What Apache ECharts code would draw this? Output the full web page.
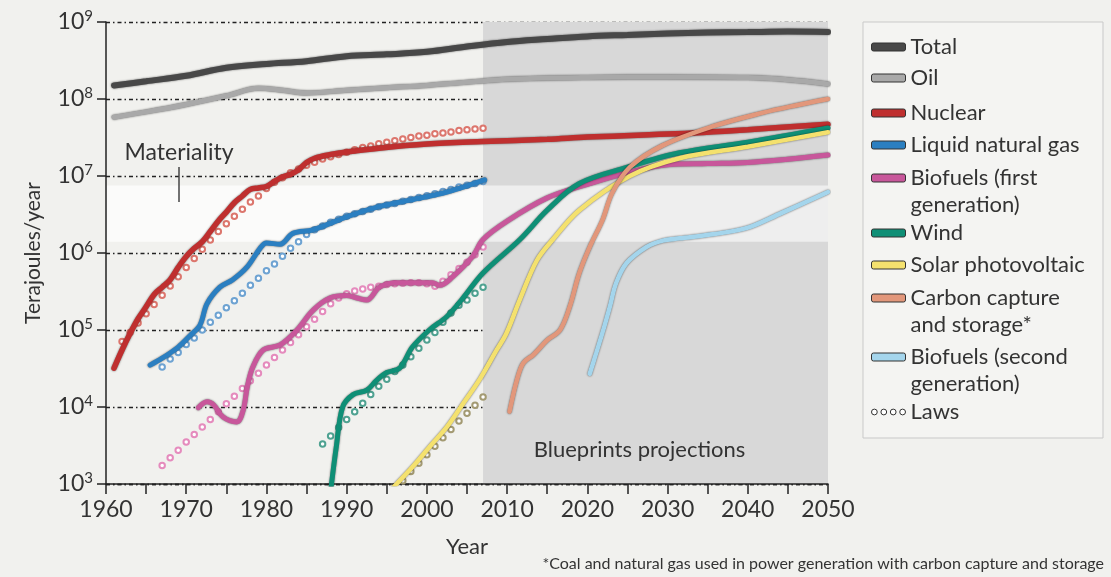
<!DOCTYPE html>
<html>
<head>
<meta charset="utf-8">
<script src="https://cdn.jsdelivr.net/npm/echarts@6/dist/echarts.min.js"></script>
<style>
  html, body { margin: 0; padding: 0; background: #f1f1ee; }
  #chart { width: 1111px; height: 577px; }
</style>
</head>
<body>
<div id="chart"></div>
<script>
// ---- data: [year, terajoules/year] ----
const total = [[1961, 1.5e8], [1965, 1.7e8], [1970, 2.0e8], [1975, 2.55e8], [1980, 2.85e8], [1985, 3.1e8], [1990, 3.6e8], [1995, 3.8e8], [2000, 4.1e8], [2005, 4.8e8], [2010, 5.5e8], [2015, 6.0e8], [2020, 6.5e8], [2025, 6.8e8], [2030, 7.1e8], [2035, 7.3e8], [2040, 7.4e8], [2045, 7.5e8], [2050, 7.4e8]];
const oil = [[1961, 5.8e7], [1965, 6.8e7], [1970, 8.5e7], [1975, 1.1e8], [1979, 1.38e8], [1982, 1.3e8], [1985, 1.2e8], [1990, 1.3e8], [1995, 1.4e8], [2000, 1.5e8], [2005, 1.65e8], [2010, 1.8e8], [2020, 1.9e8], [2030, 1.93e8], [2040, 1.9e8], [2045, 1.78e8], [2050, 1.57e8]];
const nuclear = [[1961, 3.2e4], [1962, 5.5e4], [1963, 9e4], [1964, 1.4e5], [1965, 2e5], [1966, 2.9e5], [1967, 3.6e5], [1968, 4.5e5], [1969, 6.5e5], [1970, 9e5], [1971, 1.15e6], [1972, 1.4e6], [1973, 1.9e6], [1974, 2.6e6], [1975, 3.4e6], [1976, 4.5e6], [1977, 5.5e6], [1978, 6.7e6], [1979, 7e6], [1980, 7.3e6], [1981, 8.5e6], [1982, 9.7e6], [1983, 1.05e7], [1984, 1.2e7], [1985, 1.5e7], [1986, 1.7e7], [1988, 1.9e7], [1990, 2.05e7], [1994, 2.3e7], [2000, 2.6e7], [2007, 2.8e7], [2015, 3.0e7], [2020, 3.2e7], [2030, 3.5e7], [2040, 4.0e7], [2050, 4.7e7]];
const lng = [[1965.5, 3.5e4], [1967, 4.3e4], [1969, 6e4], [1970.5, 8.5e4], [1971.7, 1.15e5], [1972.6, 2.2e5], [1974.2, 3.6e5], [1975.8, 4.5e5], [1977.6, 6.6e5], [1979.2, 1.15e6], [1980, 1.35e6], [1981.7, 1.3e6], [1983.3, 1.8e6], [1985.8, 2e6], [1990, 2.95e6], [1994, 4e6], [1998, 4.9e6], [2002.5, 6.2e6], [2007.2, 8.9e6]];
const biofuel1 = [[1971.5, 9.8e3], [1972.6, 1.17e4], [1973.4, 1.07e4], [1974.6, 7.4e3], [1976.3, 6.4e3], [1977.1, 9.1e3], [1977.6, 1.8e4], [1978.3, 3.3e4], [1979.6, 5.5e4], [1981.7, 6.4e4], [1983.8, 1e5], [1985.8, 1.8e5], [1987.9, 2.6e5], [1990, 2.8e5], [1991.3, 2.6e5], [1992.5, 2.45e5], [1994.1, 3.6e5], [1996.2, 4.1e5], [1998.2, 4.1e5], [2000.7, 4.1e5], [2001.6, 3.8e5], [2003.2, 4.9e5], [2005.7, 9e5], [2007, 1.5e6], [2010, 2.6e6], [2015, 5.2e6], [2020, 7.8e6], [2025, 1.1e7], [2030, 1.4e7], [2035, 1.45e7], [2040, 1.5e7], [2045, 1.65e7], [2050, 1.87e7]];
const wind = [[1988, 8e2], [1988.7, 3e3], [1989.5, 1e4], [1990.8, 1.45e4], [1992.5, 1.65e4], [1993.7, 2.2e4], [1995, 2.8e4], [1996.6, 3.2e4], [1998.2, 6e4], [2000.3, 1e5], [2002.5, 1.5e5], [2004.5, 2.6e5], [2007, 5.5e5], [2011.6, 1.5e6], [2015, 3.6e6], [2019, 8e6], [2025, 1.3e7], [2031.5, 2e7], [2040, 2.75e7], [2050, 4.2e7]];
const solar = [[1995.8, 9e2], [1998.2, 1.66e3], [2000.3, 3e3], [2002.5, 5.5e3], [2004.5, 1.1e4], [2006.6, 2.3e4], [2008.7, 5.5e4], [2009.9, 9e4], [2011.6, 2.5e5], [2013.7, 8e5], [2015.7, 1.5e6], [2019, 3.6e6], [2025.3, 1e7], [2031.5, 1.7e7], [2040, 2.4e7], [2050, 3.7e7]];
const ccs = [[2010.3, 8.7e3], [2011.2, 2.2e4], [2012, 3.7e4], [2013.3, 4.8e4], [2015, 7.4e4], [2016.6, 1e5], [2017.8, 2e5], [2019, 5.5e5], [2020.3, 1.2e6], [2021.9, 2.7e6], [2023.1, 6e6], [2025.3, 1.3e7], [2029.4, 2.5e7], [2035.6, 4.4e7], [2041.8, 6.6e7], [2046.1, 8.3e7], [2050, 1e8]];
const biofuel2 = [[2020.3, 2.7e4], [2021.1, 5e4], [2022.1, 1.1e5], [2022.8, 2e5], [2023.6, 4.1e5], [2024.9, 7.4e5], [2027.4, 1.2e6], [2029.4, 1.45e6], [2031.5, 1.55e6], [2035.6, 1.75e6], [2039.8, 2.1e6], [2043.9, 3.2e6], [2050, 6.2e6]];

// "laws" fits, one value per year from the start year
const nuclearLawStart = 1962;
const nuclearLaw = [7.1e4, 9.3e4, 1.23e5, 1.62e5, 2.14e5, 2.82e5, 3.72e5, 4.9e5, 6.46e5, 8.5e5, 1.12e6, 1.48e6, 1.9e6, 2.4e6, 3.0e6, 3.7e6, 4.6e6, 5.5e6, 6.9e6, 8.3e6, 9.5e6, 1.1e7, 1.23e7, 1.38e7, 1.51e7, 1.66e7, 1.78e7, 1.9e7, 2.04e7, 2.19e7, 2.34e7, 2.45e7, 2.63e7, 2.75e7, 2.88e7, 3.02e7, 3.16e7, 3.31e7, 3.39e7, 3.55e7, 3.63e7, 3.72e7, 3.89e7, 3.98e7, 4.07e7, 4.17e7];
const lngLawStart = 1967;
const lngLaw = [3.3e4, 4.2e4, 5.1e4, 6.5e4, 7.9e4, 1e5, 1.26e5, 1.55e5, 1.95e5, 2.4e5, 3e5, 3.8e5, 4.7e5, 5.9e5, 7.2e5, 9.1e5, 1.15e6, 1.4e6, 1.74e6, 2e6, 2.24e6, 2.5e6, 2.75e6, 3e6, 3.24e6, 3.47e6, 3.7e6, 4e6, 4.2e6, 4.4e6, 4.7e6, 4.95e6, 5.25e6, 5.55e6, 5.9e6, 6.3e6, 6.7e6, 7.2e6, 7.6e6, 8e6, 8.5e6];
const bioLawStart = 1967;
const bioLaw = [1.74e3, 2.2e3, 2.75e3, 3.5e3, 4.4e3, 5.5e3, 6.9e3, 8.7e3, 1.1e4, 1.38e4, 1.74e4, 2.2e4, 2.75e4, 3.5e4, 4.4e4, 5.5e4, 6.9e4, 8.7e4, 1.1e5, 1.38e5, 1.74e5, 2.2e5, 2.6e5, 2.95e5, 3.2e5, 3.4e5, 3.6e5, 3.7e5, 3.9e5, 4e5, 4.05e5, 4.1e5, 4.1e5, 4e5, 3.7e5, 4.3e5, 5.2e5, 6.3e5, 7.6e5, 9.5e5, 1.2e6];
const windLawStart = 1987;
const windLaw = [3.3e3, 4.2e3, 5.4e3, 6.9e3, 8.7e3, 1.12e4, 1.45e4, 1.86e4, 2.3e4, 2.9e4, 3.5e4, 4.5e4, 5.8e4, 7.4e4, 9.3e4, 1.26e5, 1.66e5, 2.1e5, 2.45e5, 3e5, 3.6e5];
const solarLawStart = 1997;
const solarLaw = [1.1e3, 1.45e3, 1.86e3, 2.4e3, 3.1e3, 4e3, 5.1e3, 6.6e3, 8.3e3, 1.05e4, 1.35e4];

// shaded regions
const projectionStart = 2007;
const materialityBand = [1.4e6, 7.5e6];
const materialityMark = [1969.1, 1.31e7, 4.6e6];

const FONT = 'Lato, "Open Sans", sans-serif';
const TXT = '#333';

const lines = [
  {name: 'Total', data: total, color: '#484848', width: 6},
  {name: 'Oil', data: oil, color: '#a9a9a9', width: 5},
  {name: 'Nuclear', data: nuclear, color: '#bf2f2f', width: 5.5},
  {name: 'Liquid natural gas', data: lng, color: '#2b7fc1', width: 5},
  {name: 'Biofuels (first generation)', data: biofuel1, color: '#c8579b', width: 5},
  {name: 'Wind', data: wind, color: '#0f8f76', width: 5},
  {name: 'Solar photovoltaic', data: solar, color: '#f4e16e', width: 4.5},
  {name: 'Carbon capture and storage*', data: ccs, color: '#e2977b', width: 4.5},
  {name: 'Biofuels (second generation)', data: biofuel2, color: '#a4d5ec', width: 4.5}
];
const laws = [
  {start: nuclearLawStart, values: nuclearLaw, color: '#dc766d'},
  {start: lngLawStart, values: lngLaw, color: '#6ea3d2'},
  {start: bioLawStart, values: bioLaw, color: '#e58bbd'},
  {start: windLawStart, values: windLaw, color: '#4fa291'},
  {start: solarLawStart, values: solarLaw, color: '#a39a72'}
];

// legend rows: label text and icon centre (px)
const legendRows = [
  ['Total', 'Total', 47],
  ['Oil', 'Oil', 78],
  ['Nuclear', 'Nuclear', 113],
  ['Liquid natural gas', 'Liquid natural gas', 145],
  ['Biofuels (first generation)', 'Biofuels (first\ngeneration)', 178],
  ['Wind', 'Wind', 233],
  ['Solar photovoltaic', 'Solar photovoltaic', 265],
  ['Carbon capture and storage*', 'Carbon capture\nand storage*', 298],
  ['Biofuels (second generation)', 'Biofuels (second\ngeneration)', 357],
  ['Laws', 'Laws', 412]
];
const LH = 27;
const lawsIcon = 'path://M1,4a2.6,2.6 0 1,0 5.2,0a2.6,2.6 0 1,0 -5.2,0M9.5,4a2.6,2.6 0 1,0 5.2,0a2.6,2.6 0 1,0 -5.2,0M18,4a2.6,2.6 0 1,0 5.2,0a2.6,2.6 0 1,0 -5.2,0M26.5,4a2.6,2.6 0 1,0 5.2,0a2.6,2.6 0 1,0 -5.2,0';

const legends = legendRows.map(([name, label, cy]) => {
  const multi = label.indexOf('\n') >= 0;
  const text = multi ? '\n' + label : label;
  const nLines = text.split('\n').length;
  const isLaws = name === 'Laws';
  return {
    orient: 'vertical',
    left: 871,
    top: cy - nLines * LH / 2,
    padding: 0,
    itemWidth: 34,
    itemHeight: isLaws ? 6 : 8,
    selectedMode: false,
    formatter: () => text,
    textStyle: {fontFamily: FONT, fontSize: 22, color: TXT, lineHeight: LH},
    data: [isLaws
      ? {name, icon: lawsIcon, itemStyle: {color: '#fff', borderColor: '#333', borderWidth: 1}}
      : {name, icon: 'roundRect', itemStyle: {borderColor: '#333', borderWidth: 1}}]
  };
});

const series = [];
// background shading + materiality annotation
series.push({
  type: 'line', name: 'bg', data: [], z: 0, silent: true,
  markArea: {
    silent: true,
    label: {show: false},
    data: [
      [{xAxis: 1960, yAxis: materialityBand[0], itemStyle: {color: '#fbfbfa'}}, {xAxis: projectionStart, yAxis: materialityBand[1]}],
      [{xAxis: projectionStart, yAxis: 1e3, name: 'Blueprints projections', itemStyle: {color: '#d8d8d8'},
        label: {show: true, position: 'insideBottom', distance: 23, offset: [-16, 0], color: TXT, fontFamily: FONT, fontSize: 22}},
       {xAxis: 2050, yAxis: 1e9}],
      [{xAxis: projectionStart, yAxis: materialityBand[0], itemStyle: {color: '#eeeeee'}}, {xAxis: 2050, yAxis: materialityBand[1]}]
    ]
  },
  markLine: {
    silent: true,
    symbol: ['none', 'none'],
    lineStyle: {color: '#444', width: 1.5, type: 'solid'},
    label: {show: true, position: 'start', formatter: 'Materiality', color: TXT, fontFamily: FONT, fontSize: 23, distance: 3},
    data: [[{coord: [materialityMark[0], materialityMark[1]]}, {coord: [materialityMark[0], materialityMark[2]]}]]
  }
});
laws.forEach(l => {
  series.push({
    type: 'line', name: 'Laws', z: 2,
    data: l.values.map((v, i) => [l.start + i, v]),
    symbol: 'emptyCircle', symbolSize: 5.5, showSymbol: true,
    lineStyle: {opacity: 0},
    itemStyle: {color: l.color, borderWidth: 1.3},
    emphasis: {disabled: true}
  });
});
lines.forEach(l => {
  series.push({
    type: 'line', name: l.name, data: l.data, z: 3,
    smooth: 0.35, showSymbol: false, symbol: 'none',
    color: l.color,
    itemStyle: {color: l.color},
    lineStyle: {color: l.color, width: l.width, cap: 'round', shadowColor: 'rgba(0,0,0,0.6)', shadowBlur: 2},
    emphasis: {disabled: true}
  });
});

const chart = echarts.init(document.getElementById('chart'));
chart.setOption({
  backgroundColor: '#f1f1ee',
  animation: false,
  textStyle: {fontFamily: FONT},
  grid: {left: 106, right: 283, top: 22, bottom: 93},
  legend: legends,
  xAxis: {
    type: 'value', min: 1960, max: 2050, interval: 5, z: 1,
    name: 'Year', nameLocation: 'middle', nameGap: 52,
    nameTextStyle: {fontFamily: FONT, fontSize: 22, color: TXT},
    axisLine: {lineStyle: {color: '#222', width: 1.5}},
    axisTick: {length: 10, lineStyle: {color: '#222', width: 1.5}},
    axisLabel: {fontFamily: FONT, fontSize: 23, color: TXT, margin: 14,
      formatter: v => (v % 10 === 0 ? String(v) : '')},
    splitLine: {show: false}
  },
  yAxis: {
    type: 'log', logBase: 10, min: 1e3, max: 1e9, splitNumber: 6, z: 1,
    name: 'Terajoules/year', nameLocation: 'middle', nameGap: 62,
    nameTextStyle: {fontFamily: FONT, fontSize: 21, color: TXT},
    axisLine: {show: true, lineStyle: {color: '#222', width: 1.5}},
    axisTick: {show: true, length: 9, lineStyle: {color: '#222', width: 1.5}},
    axisLabel: {
      margin: 13, color: TXT,
      formatter: v => '{b|10}{s|' + Math.round(Math.log10(v)) + '}',
      rich: {
        b: {fontFamily: FONT, fontSize: 23, color: TXT, lineHeight: 26},
        s: {fontFamily: FONT, fontSize: 15, color: TXT, verticalAlign: 'top', lineHeight: 15}
      }
    },
    splitLine: {show: true, lineStyle: {color: '#222', width: 1.3, type: [4, 3, 1.5, 3]}}
  },
  graphic: [
    {type: 'rect', z: -1, shape: {x: 863, y: 22, width: 240, height: 416},
      style: {fill: '#f4f4f2', stroke: '#c9c9c9', lineWidth: 1}},
    {type: 'text', right: 7, top: 556,
      style: {text: '*Coal and natural gas used in power generation with carbon capture and storage',
        font: '16px ' + FONT, fill: TXT}}
  ],
  series
});
</script>
</body>
</html>
